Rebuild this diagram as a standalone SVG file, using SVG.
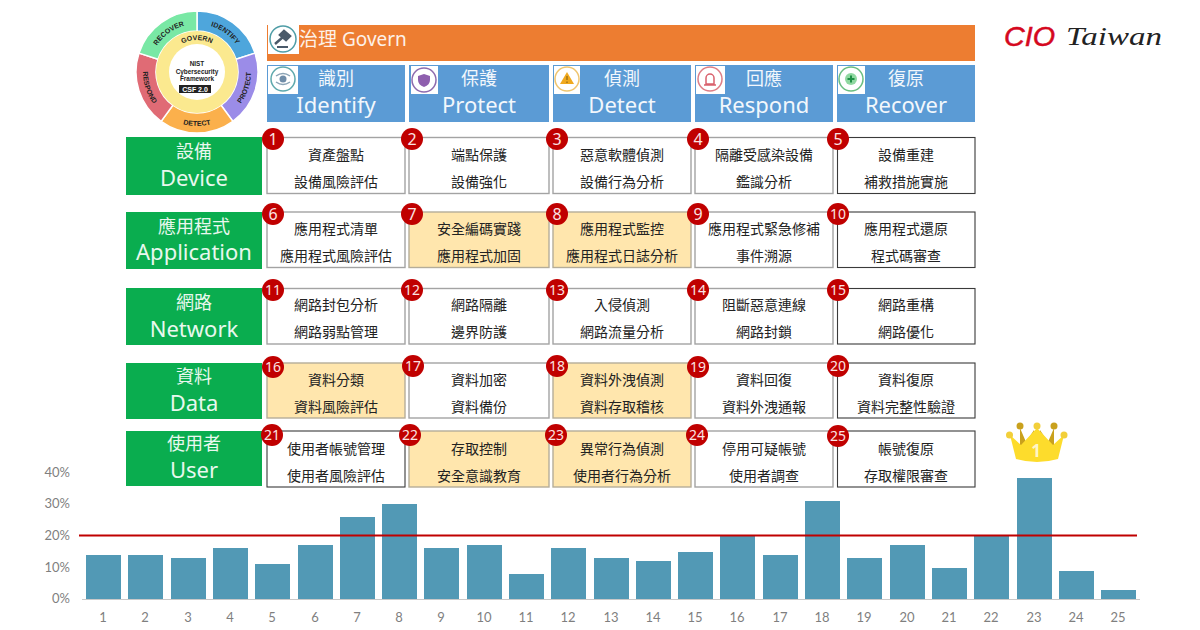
<svg xmlns="http://www.w3.org/2000/svg" width="1200" height="630" viewBox="0 0 1200 630">
<style>
text{font-family:"Noto Sans","Noto Sans CJK TC",sans-serif}
.hc{font-family:"Liberation Sans","Noto Sans CJK TC",sans-serif;font-size:18px;fill:#f2f7fc;text-anchor:middle}
.he{font-size:22px;fill:#f2f7fc;text-anchor:middle}
.gc{font-family:"Liberation Sans","Noto Sans CJK TC",sans-serif;font-size:18px;fill:#e8f8ee;text-anchor:middle}
.ge{font-size:22px;fill:#e8f8ee;text-anchor:middle}
.box{fill:#fff;stroke:#a3a3a3;stroke-width:1.4}
.dk{stroke:#3a3a3a;stroke-width:1.1}
.hl{fill:#ffe6ad;stroke:#b5ad99}
.t{font-size:14px;fill:#222;text-anchor:middle}
.bd{fill:#c00000}
.bt{font-size:14px;fill:#fbe3e3;text-anchor:middle}
.b1{font-size:16px}
.ax{font-family:Lato,"Noto Sans",sans-serif;font-size:13px;fill:#7f7f7f;text-anchor:middle}
.ay{font-family:Lato,"Noto Sans",sans-serif;font-size:13px;fill:#7f7f7f;text-anchor:end}
.bar{fill:#5299b5}
.blue{fill:#5b9bd5}
.green{fill:#0aad4f}
.w{fill:#fff}
.wt{font-family:"Liberation Sans",sans-serif;font-weight:bold;font-size:7px;fill:#222;text-anchor:middle}
.ct{font-family:"Liberation Sans",sans-serif;font-weight:bold;font-size:6.4px;fill:#222;text-anchor:middle}
.seg{stroke:#fff;stroke-width:1.5}
</style>
<defs>
<path id="aI" d="M200.3 24.1A48 48 0 0 1 241.5 54"/>
<path id="aR" d="M152.5 54A48 48 0 0 1 193.7 24.1"/>
<path id="aG" d="M172.5 51.4A32 32 0 0 1 221.5 51.4"/>
<path id="aP" d="M231.7 113.4A54 54 0 0 0 249.4 58.9"/>
<path id="aD" d="M168.4 117.8A54 54 0 0 0 225.6 117.8"/>
<path id="aS" d="M144.6 58.9A54 54 0 0 0 162.3 113.4"/>
</defs>

<g id="csf-wheel">
<path class="seg" fill="#4ea6dc" d="M197 11A61 61 0 0 1 255 53.1L236 59.3A41 41 0 0 0 197 31Z"/>
<path class="seg" fill="#9b8ce8" d="M255 53.1A61 61 0 0 1 232.9 121.4L221.1 105.2A41 41 0 0 0 236 59.3Z"/>
<path class="seg" fill="#fbb04c" d="M232.9 121.4A61 61 0 0 1 161.1 121.4L172.9 105.2A41 41 0 0 0 221.1 105.2Z"/>
<path class="seg" fill="#e06b75" d="M161.1 121.4A61 61 0 0 1 139 53.1L158 59.3A41 41 0 0 0 172.9 105.2Z"/>
<path class="seg" fill="#79e8a5" d="M139 53.1A61 61 0 0 1 197 11L197 31A41 41 0 0 0 158 59.3Z"/>
<circle cx="197" cy="72" r="41" fill="#fbe98f"/>
<circle cx="197" cy="72" r="28" fill="#fff"/>
<text class="wt"><textPath href="#aI" startOffset="50%">IDENTIFY</textPath></text>
<text class="wt"><textPath href="#aR" startOffset="50%">RECOVER</textPath></text>
<text class="wt"><textPath href="#aG" startOffset="50%">GOVERN</textPath></text>
<text class="wt"><textPath href="#aP" startOffset="50%">PROTECT</textPath></text>
<text class="wt"><textPath href="#aD" startOffset="50%">DETECT</textPath></text>
<text class="wt"><textPath href="#aS" startOffset="50%">RESPOND</textPath></text>
<text class="ct" x="197" y="66">NIST</text>
<text class="ct" x="197" y="73.500">Cybersecurity</text>
<text class="ct" x="197" y="81">Framework</text>
<rect x="179" y="85" width="32" height="8" fill="#222"/>
<text class="ct" x="195" y="91.500" style="fill:#fff;font-size:7px">CSF 2.0</text>
</g>

<g id="govern">
<rect x="267" y="25" width="708" height="36" fill="#ed7d31"/>
<rect class="w" x="268" y="24" width="31" height="30"/>
<circle cx="283" cy="39" r="13" fill="#fff" stroke="#4f9da6" stroke-width="1.5"/>
<path d="M284 31l6 5-4 4-6-5zM283 37l-8 7" stroke="#4a5a6a" stroke-width="2.500" fill="#4a5a6a"/>
<path d="M277 47h11" stroke="#4a5a6a" stroke-width="2"/>
<text x="299" y="46" font-size="19" fill="#fdf1e8">治理 Govern</text>
</g>

<g id="h-identify">
<rect class="blue" x="267" y="65" width="138" height="57"/>
<rect class="w" x="268" y="66" width="30" height="28"/>
<circle cx="283" cy="79" r="12" fill="#fff" stroke="#5fa9ad" stroke-width="1.5"/>
<path d="M276 76q7-5 14 0M276 82q7 5 14 0" fill="none" stroke="#8aa3b5" stroke-width="1.500"/>
<circle cx="283" cy="79" r="3.500" fill="#6f8ca8"/>
<text class="hc" x="336" y="85">識別</text>
<text class="he" x="336" y="113">Identify</text>
</g>
<g id="h-protect">
<rect class="blue" x="409" y="65" width="140" height="57"/>
<rect class="w" x="411" y="66" width="27" height="28"/>
<circle cx="424" cy="80" r="12" fill="#fff" stroke="#8e6bae" stroke-width="1.5"/>
<path d="M418 76l6-2 6 2v4q0 5-6 7q-6-2-6-7z" fill="#8e5fae"/>
<text class="hc" x="479" y="85">保護</text>
<text class="he" x="479" y="113">Protect</text>
</g>
<g id="h-detect">
<rect class="blue" x="553" y="65" width="138" height="57"/>
<rect class="w" x="554" y="66" width="26" height="28"/>
<circle cx="567" cy="79" r="12" fill="#fff" stroke="#efc56f" stroke-width="1.5"/>
<path d="M567 72l7 12h-14z" fill="#f0a91e"/>
<path d="M567 76v4M567 81.500v1.500" stroke="#7a5a10" stroke-width="1"/>
<text class="hc" x="622" y="85">偵測</text>
<text class="he" x="622" y="113">Detect</text>
</g>
<g id="h-respond">
<rect class="blue" x="695" y="65" width="138" height="57"/>
<rect class="w" x="696" y="66" width="29" height="28"/>
<circle cx="710" cy="79" r="12" fill="#fff" stroke="#de7e86" stroke-width="1.5"/>
<path d="M706 84v-6a4 4 0 0 1 8 0v6zM704 85h12" fill="none" stroke="#d9606c" stroke-width="1.500"/>
<text class="hc" x="764" y="85">回應</text>
<text class="he" x="764" y="113">Respond</text>
</g>
<g id="h-recover">
<rect class="blue" x="837" y="65" width="138" height="57"/>
<rect class="w" x="838" y="66" width="27" height="28"/>
<circle cx="851" cy="79" r="12" fill="#fff" stroke="#6bbe80" stroke-width="1.5"/>
<circle cx="851" cy="79" r="6" fill="#8fd8a0"/>
<path d="M847.500 79h7M851 75.500v7" stroke="#1f8f45" stroke-width="2"/>
<text class="hc" x="906" y="85">復原</text>
<text class="he" x="906" y="113">Recover</text>
</g>

<g id="logo">
<text x="1004" y="46" font-size="28" fill="#d5081e" stroke="#d5081e" stroke-width="0.500" textLength="51" lengthAdjust="spacingAndGlyphs" style="font-family:'Liberation Sans',sans-serif;font-style:italic">CIO</text>
<text x="1066" y="45" font-size="26" fill="#222" textLength="96" lengthAdjust="spacingAndGlyphs" style="font-family:'Liberation Serif',serif;font-style:italic">Taiwan</text>
</g>

<g id="rows">
<g id="r-device"><rect class="green" x="126" y="137" width="136" height="58"/><text class="gc" x="194" y="158">設備</text><text class="ge" x="194" y="186">Device</text></g>
<g id="r-application"><rect class="green" x="126" y="212" width="136" height="57"/><text class="gc" x="194" y="233">應用程式</text><text class="ge" x="194" y="260">Application</text></g>
<g id="r-network"><rect class="green" x="126" y="288" width="136" height="57"/><text class="gc" x="194" y="309">網路</text><text class="ge" x="194" y="337">Network</text></g>
<g id="r-data"><rect class="green" x="126" y="363" width="136" height="56"/><text class="gc" x="194" y="383">資料</text><text class="ge" x="194" y="411">Data</text></g>
<g id="r-user"><rect class="green" x="126" y="431" width="136" height="55"/><text class="gc" x="194" y="450">使用者</text><text class="ge" x="194" y="478">User</text></g>
</g>

<g id="n1"><rect class="box" x="267" y="137.500" width="138" height="56"/><text class="t" x="336" y="160">資產盤點</text><text class="t" x="336" y="187">設備風險評估</text><circle class="bd" cx="273" cy="139" r="11"/><text class="bt b1" x="273" y="145">1</text></g>
<g id="n2"><rect class="box" x="409" y="137.500" width="140" height="56"/><text class="t" x="479" y="160">端點保護</text><text class="t" x="479" y="187">設備強化</text><circle class="bd" cx="412" cy="139" r="11"/><text class="bt b1" x="412" y="145">2</text></g>
<g id="n3"><rect class="box" x="553" y="137.500" width="138" height="56"/><text class="t" x="622" y="160">惡意軟體偵測</text><text class="t" x="622" y="187">設備行為分析</text><circle class="bd" cx="557" cy="139" r="11"/><text class="bt b1" x="557" y="145">3</text></g>
<g id="n4"><rect class="box" x="695" y="137.500" width="138" height="56"/><text class="t" x="764" y="160">隔離受感染設備</text><text class="t" x="764" y="187">鑑識分析</text><circle class="bd" cx="698" cy="139" r="11"/><text class="bt b1" x="698" y="145">4</text></g>
<g id="n5"><rect class="box dk" x="837.500" y="137.500" width="137.500" height="56"/><text class="t" x="906" y="160">設備重建</text><text class="t" x="906" y="187">補救措施實施</text><circle class="bd" cx="838" cy="139" r="11"/><text class="bt b1" x="838" y="145">5</text></g>

<g id="n6"><rect class="box" x="267" y="212" width="138" height="55.500"/><text class="t" x="336" y="234">應用程式清單</text><text class="t" x="336" y="261">應用程式風險評估</text><circle class="bd" cx="273" cy="214" r="11"/><text class="bt b1" x="273" y="220">6</text></g>
<g id="n7"><rect class="box hl" x="409" y="212" width="140" height="55.500"/><text class="t" x="479" y="234">安全編碼實踐</text><text class="t" x="479" y="261">應用程式加固</text><circle class="bd" cx="412" cy="214" r="11"/><text class="bt b1" x="412" y="220">7</text></g>
<g id="n8"><rect class="box hl" x="553" y="212" width="138" height="55.500"/><text class="t" x="622" y="234">應用程式監控</text><text class="t" x="622" y="261">應用程式日誌分析</text><circle class="bd" cx="557" cy="214" r="11"/><text class="bt b1" x="557" y="220">8</text></g>
<g id="n9"><rect class="box" x="695" y="212" width="138" height="55.500"/><text class="t" x="764" y="234">應用程式緊急修補</text><text class="t" x="764" y="261">事件溯源</text><circle class="bd" cx="698" cy="214" r="11"/><text class="bt b1" x="698" y="220">9</text></g>
<g id="n10"><rect class="box dk" x="837.500" y="212" width="137.500" height="55.500"/><text class="t" x="906" y="234">應用程式還原</text><text class="t" x="906" y="261">程式碼審查</text><circle class="bd" cx="838" cy="214" r="11"/><text class="bt" x="838" y="219">10</text></g>

<g id="n11"><rect class="box" x="267" y="288.500" width="138" height="55.500"/><text class="t" x="336" y="310">網路封包分析</text><text class="t" x="336" y="337">網路弱點管理</text><circle class="bd" cx="273" cy="290" r="11"/><text class="bt" x="273" y="295">11</text></g>
<g id="n12"><rect class="box" x="409" y="288.500" width="140" height="55.500"/><text class="t" x="479" y="310">網路隔離</text><text class="t" x="479" y="337">邊界防護</text><circle class="bd" cx="412" cy="290" r="11"/><text class="bt" x="412" y="295">12</text></g>
<g id="n13"><rect class="box" x="553" y="288.500" width="138" height="55.500"/><text class="t" x="622" y="310">入侵偵測</text><text class="t" x="622" y="337">網路流量分析</text><circle class="bd" cx="557" cy="290" r="11"/><text class="bt" x="557" y="295">13</text></g>
<g id="n14"><rect class="box" x="695" y="288.500" width="138" height="55.500"/><text class="t" x="764" y="310">阻斷惡意連線</text><text class="t" x="764" y="337">網路封鎖</text><circle class="bd" cx="698" cy="290" r="11"/><text class="bt" x="698" y="295">14</text></g>
<g id="n15"><rect class="box dk" x="837.500" y="288.500" width="137.500" height="55.500"/><text class="t" x="906" y="310">網路重構</text><text class="t" x="906" y="337">網路優化</text><circle class="bd" cx="838" cy="290" r="11"/><text class="bt" x="838" y="295">15</text></g>

<g id="n16"><rect class="box hl" x="267" y="363" width="138" height="55"/><text class="t" x="336" y="385">資料分類</text><text class="t" x="336" y="412">資料風險評估</text><circle class="bd" cx="273" cy="367" r="11"/><text class="bt" x="273" y="372">16</text></g>
<g id="n17"><rect class="box" x="409" y="363" width="140" height="55"/><text class="t" x="479" y="385">資料加密</text><text class="t" x="479" y="412">資料備份</text><circle class="bd" cx="413" cy="366" r="11"/><text class="bt" x="413" y="371">17</text></g>
<g id="n18"><rect class="box hl" x="553" y="363" width="138" height="55"/><text class="t" x="622" y="385">資料外洩偵測</text><text class="t" x="622" y="412">資料存取稽核</text><circle class="bd" cx="557" cy="366" r="11"/><text class="bt" x="557" y="371">18</text></g>
<g id="n19"><rect class="box" x="695" y="363" width="138" height="55"/><text class="t" x="764" y="385">資料回復</text><text class="t" x="764" y="412">資料外洩通報</text><circle class="bd" cx="698" cy="367" r="11"/><text class="bt" x="698" y="372">19</text></g>
<g id="n20"><rect class="box dk" x="837.500" y="363" width="137.500" height="55"/><text class="t" x="906" y="385">資料復原</text><text class="t" x="906" y="412">資料完整性驗證</text><circle class="bd" cx="838" cy="366" r="11"/><text class="bt" x="838" y="371">20</text></g>

<g id="n21"><rect class="box dk" x="267" y="431" width="138" height="56"/><text class="t" x="336" y="454">使用者帳號管理</text><text class="t" x="336" y="481">使用者風險評估</text><circle class="bd" cx="272" cy="435" r="11"/><text class="bt" x="272" y="440">21</text></g>
<g id="n22"><rect class="box hl" x="409" y="431" width="140" height="56"/><text class="t" x="479" y="454">存取控制</text><text class="t" x="479" y="481">安全意識教育</text><circle class="bd" cx="410" cy="435" r="11"/><text class="bt" x="410" y="440">22</text></g>
<g id="n23"><rect class="box hl" x="553" y="431" width="138" height="56"/><text class="t" x="622" y="454">異常行為偵測</text><text class="t" x="622" y="481">使用者行為分析</text><circle class="bd" cx="556" cy="435" r="11"/><text class="bt" x="556" y="440">23</text></g>
<g id="n24"><rect class="box" x="695" y="431" width="138" height="56"/><text class="t" x="764" y="454">停用可疑帳號</text><text class="t" x="764" y="481">使用者調查</text><circle class="bd" cx="697" cy="435" r="11"/><text class="bt" x="697" y="440">24</text></g>
<g id="n25"><rect class="box dk" x="837.500" y="431" width="137.500" height="56"/><text class="t" x="906" y="454">帳號復原</text><text class="t" x="906" y="481">存取權限審查</text><circle class="bd" cx="838" cy="436" r="11"/><text class="bt" x="838" y="441">25</text></g>

<g id="crown">
<path d="M1020 428l6 14 8-12v16h-14zM1054 428l-6 14-8-12v16h14z" fill="#c9a11d"/>
<circle cx="1020" cy="426" r="3.500" fill="#c9a11d"/><circle cx="1054" cy="426" r="3.500" fill="#c9a11d"/>
<path d="M1010 435l11 10 16-17 16 17 11-10-6 24q-21 6-42 0z" fill="#fddc2c"/>
<circle cx="1037" cy="426" r="3.500" fill="#f2cf3a"/><circle cx="1009.500" cy="435" r="3.500" fill="#f2cf3a"/><circle cx="1064" cy="435" r="3.500" fill="#f2cf3a"/>
<text x="1036" y="457" font-size="17" font-weight="bold" fill="#fff6c8" text-anchor="middle">1</text>
</g>

<g id="chart">
<path d="M82 599.500H1140" stroke="#c9c9c9" stroke-width="1"/>
<g id="bars">
<rect class="bar" x="86" y="555" width="35" height="44"/>
<rect class="bar" x="128" y="555" width="35" height="44"/>
<rect class="bar" x="171" y="558" width="35" height="41"/>
<rect class="bar" x="213" y="548" width="35" height="51"/>
<rect class="bar" x="255" y="564" width="35" height="35"/>
<rect class="bar" x="298" y="545" width="35" height="54"/>
<rect class="bar" x="340" y="517" width="35" height="82"/>
<rect class="bar" x="382" y="504" width="35" height="95"/>
<rect class="bar" x="424" y="548" width="35" height="51"/>
<rect class="bar" x="467" y="545" width="35" height="54"/>
<rect class="bar" x="509" y="574" width="35" height="25"/>
<rect class="bar" x="551" y="548" width="35" height="51"/>
<rect class="bar" x="594" y="558" width="35" height="41"/>
<rect class="bar" x="636" y="561" width="35" height="38"/>
<rect class="bar" x="678" y="552" width="35" height="47"/>
<rect class="bar" x="720" y="535" width="35" height="64"/>
<rect class="bar" x="763" y="555" width="35" height="44"/>
<rect class="bar" x="805" y="501" width="35" height="98"/>
<rect class="bar" x="847" y="558" width="35" height="41"/>
<rect class="bar" x="890" y="545" width="35" height="54"/>
<rect class="bar" x="932" y="568" width="35" height="31"/>
<rect class="bar" x="974" y="535" width="35" height="64"/>
<rect class="bar" x="1017" y="478" width="35" height="121"/>
<rect class="bar" x="1059" y="571" width="35" height="28"/>
<rect class="bar" x="1101" y="590" width="35" height="9"/>
</g>
<path d="M79 535.500H1137" stroke="#c00000" stroke-width="2"/>
<text class="ay" x="70" y="476.500">40%</text>
<text class="ay" x="70" y="508">30%</text>
<text class="ay" x="70" y="540">20%</text>
<text class="ay" x="70" y="571.500">10%</text>
<text class="ay" x="70" y="603">0%</text>
<text class="ax" x="103" y="622">1</text><text class="ax" x="145" y="622">2</text><text class="ax" x="188" y="622">3</text><text class="ax" x="230" y="622">4</text><text class="ax" x="272" y="622">5</text><text class="ax" x="315" y="622">6</text><text class="ax" x="357" y="622">7</text><text class="ax" x="399" y="622">8</text><text class="ax" x="441" y="622">9</text><text class="ax" x="484" y="622">10</text><text class="ax" x="526" y="622">11</text><text class="ax" x="568" y="622">12</text><text class="ax" x="611" y="622">13</text><text class="ax" x="653" y="622">14</text><text class="ax" x="695" y="622">15</text><text class="ax" x="737" y="622">16</text><text class="ax" x="780" y="622">17</text><text class="ax" x="822" y="622">18</text><text class="ax" x="864" y="622">19</text><text class="ax" x="907" y="622">20</text><text class="ax" x="949" y="622">21</text><text class="ax" x="991" y="622">22</text><text class="ax" x="1034" y="622">23</text><text class="ax" x="1076" y="622">24</text><text class="ax" x="1118" y="622">25</text>
</g>
</svg>
